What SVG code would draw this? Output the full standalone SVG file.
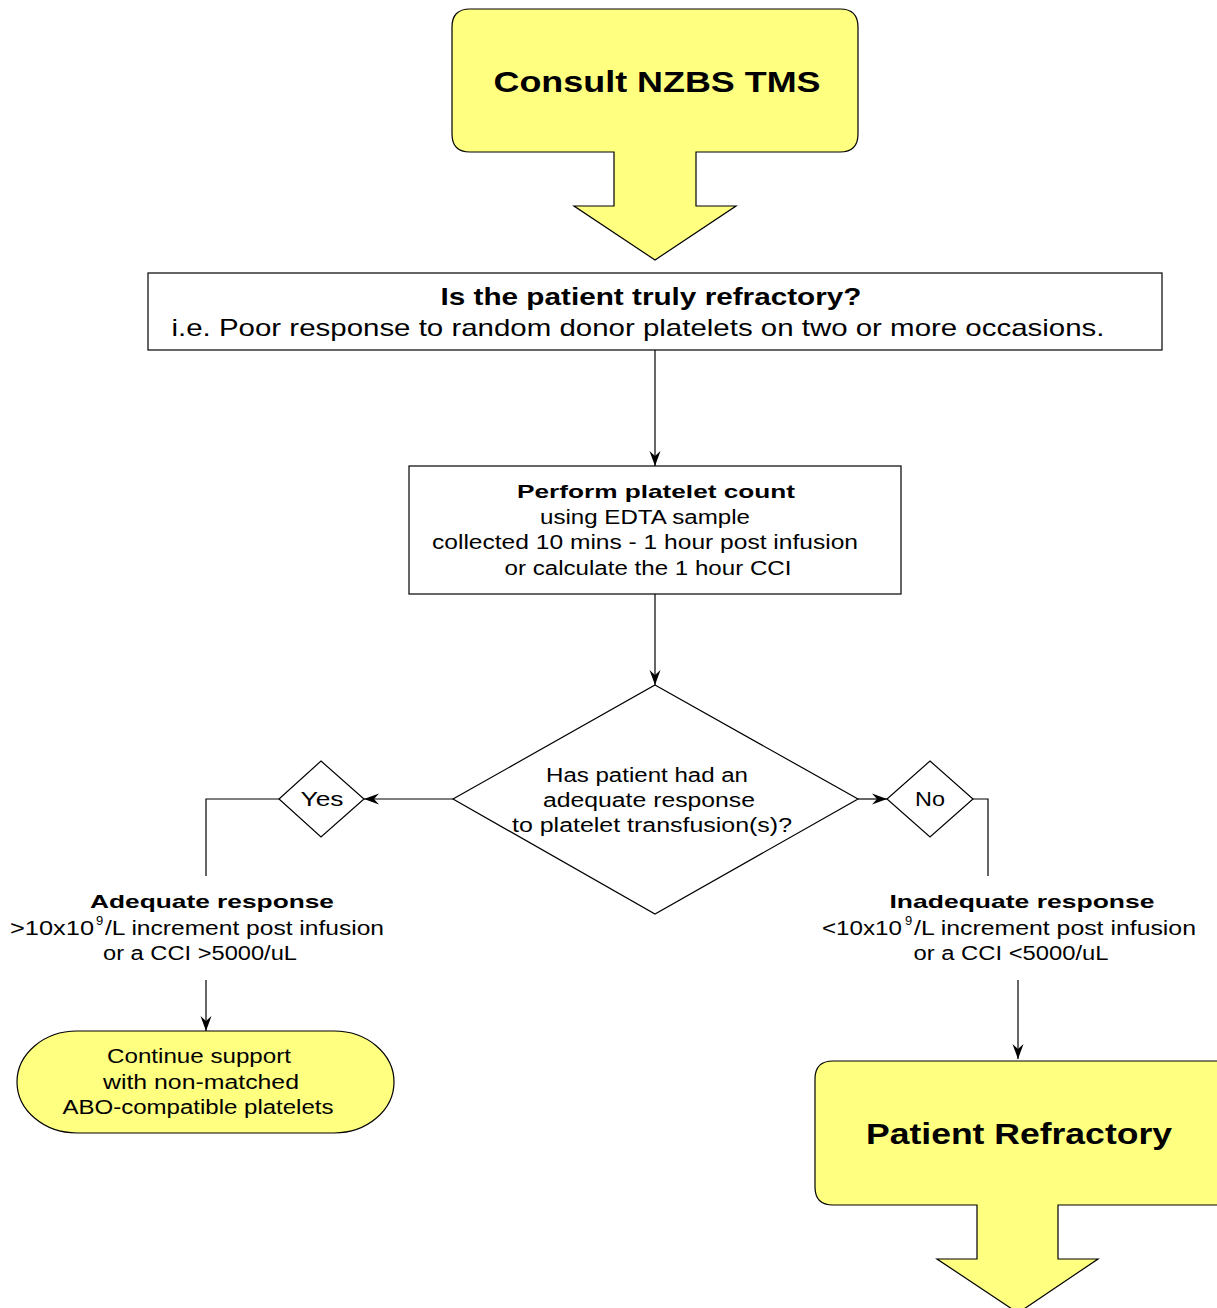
<svg xmlns="http://www.w3.org/2000/svg" width="1217" height="1308" viewBox="0 0 1217 1308">
<style>
.t{font-family:"Liberation Sans",Arial,sans-serif;fill:#000;text-anchor:middle}
.s{font-family:"Liberation Sans",Arial,sans-serif;fill:#000;text-anchor:start}
.b{font-weight:bold}
.y{fill:#ffff80;stroke:#000;stroke-width:1.2}
.w{fill:#fff;stroke:#000;stroke-width:1.2}
.c{fill:none;stroke:#000;stroke-width:1.2}
</style>
<defs>
<marker id="ah" markerUnits="userSpaceOnUse" markerWidth="16" markerHeight="12" refX="15" refY="6" orient="auto">
<path d="M0,0.5 L15,6 L0,11.5 L5,6 z" fill="#000"/>
</marker>
</defs>
<g id="consult">
<path class="y" d="M470,9 H840 Q858,9 858,27 V134 Q858,152 840,152 H696 V206 H736 L655,260 L574,206 H614 V152 H470 Q452,152 452,134 V27 Q452,9 470,9 Z"/>
<text class="t b" x="657" y="92" font-size="30" textLength="327" lengthAdjust="spacingAndGlyphs">Consult NZBS TMS</text>
</g>
<g id="refractory-q">
<rect class="w" x="148" y="273" width="1014" height="77"/>
<text class="t b" x="651" y="305" font-size="24" textLength="421" lengthAdjust="spacingAndGlyphs">Is the patient truly refractory?</text>
<text class="t" x="638" y="336" font-size="24" textLength="933" lengthAdjust="spacingAndGlyphs">i.e. Poor response to random donor platelets on two or more occasions.</text>
</g>
<g id="platelet-count">
<rect class="w" x="409" y="466" width="492" height="128"/>
<text class="t b" x="656" y="498" font-size="19" textLength="278" lengthAdjust="spacingAndGlyphs">Perform platelet count</text>
<text class="t" x="645" y="524" font-size="20" textLength="210" lengthAdjust="spacingAndGlyphs">using EDTA sample</text>
<text class="t" x="645" y="549" font-size="20" textLength="426" lengthAdjust="spacingAndGlyphs">collected 10 mins - 1 hour post infusion</text>
<text class="t" x="648" y="575" font-size="20" textLength="287" lengthAdjust="spacingAndGlyphs">or calculate the 1 hour CCI</text>
</g>
<g id="decision">
<polygon class="w" points="655,685 858,799 655,914 453,799"/>
<text class="t" x="647" y="782" font-size="20" textLength="202" lengthAdjust="spacingAndGlyphs">Has patient had an</text>
<text class="t" x="649" y="807" font-size="20" textLength="212" lengthAdjust="spacingAndGlyphs">adequate response</text>
<text class="t" x="652" y="832" font-size="20" textLength="280" lengthAdjust="spacingAndGlyphs">to platelet transfusion(s)?</text>
</g>
<g id="yes">
<polygon class="w" points="321,761 364,799 321,837 279,799"/>
<text class="t" x="322" y="806" font-size="20" textLength="43" lengthAdjust="spacingAndGlyphs">Yes</text>
</g>
<g id="no">
<polygon class="w" points="930,761 973,799 930,837 887,799"/>
<text class="t" x="930" y="806" font-size="20" textLength="30" lengthAdjust="spacingAndGlyphs">No</text>
</g>
<g id="adequate">
<text class="t b" x="212" y="908" font-size="19" textLength="244" lengthAdjust="spacingAndGlyphs">Adequate response</text>
<text class="s" x="10" y="935" font-size="20" textLength="84" lengthAdjust="spacingAndGlyphs">&gt;10x10</text>
<text class="s" x="96" y="925" font-size="13">9</text>
<text class="s" x="105" y="935" font-size="20" textLength="279" lengthAdjust="spacingAndGlyphs">/L increment post infusion</text>
<text class="t" x="200" y="960" font-size="20" textLength="194" lengthAdjust="spacingAndGlyphs">or a CCI &gt;5000/uL</text>
</g>
<g id="continue">
<rect class="y" x="17" y="1031" width="377" height="102" rx="60" ry="51"/>
<text class="t" x="199" y="1063" font-size="20" textLength="184" lengthAdjust="spacingAndGlyphs">Continue support</text>
<text class="t" x="201" y="1089" font-size="20" textLength="196" lengthAdjust="spacingAndGlyphs">with non-matched</text>
<text class="t" x="198" y="1114" font-size="20" textLength="271" lengthAdjust="spacingAndGlyphs">ABO-compatible platelets</text>
</g>
<g id="inadequate">
<text class="t b" x="1022" y="908" font-size="19" textLength="265" lengthAdjust="spacingAndGlyphs">Inadequate response</text>
<text class="s" x="822" y="935" font-size="20" textLength="80" lengthAdjust="spacingAndGlyphs">&lt;10x10</text>
<text class="s" x="905" y="925" font-size="13">9</text>
<text class="s" x="914" y="935" font-size="20" textLength="282" lengthAdjust="spacingAndGlyphs">/L increment post infusion</text>
<text class="t" x="1011" y="960" font-size="20" textLength="195" lengthAdjust="spacingAndGlyphs">or a CCI &lt;5000/uL</text>
</g>
<g id="patient-refractory">
<path class="y" d="M833,1061 H1218 V1205 H1058 V1259 H1098 L1018,1313 L937,1259 H977 V1205 H833 Q815,1205 815,1187 V1079 Q815,1061 833,1061 Z"/>
<text class="t b" x="1019" y="1144" font-size="30" textLength="306" lengthAdjust="spacingAndGlyphs">Patient Refractory</text>
</g>
<g id="connectors">
<line class="c" x1="655" y1="350" x2="655" y2="466" marker-end="url(#ah)"/>
<line class="c" x1="655" y1="594" x2="655" y2="685" marker-end="url(#ah)"/>
<line class="c" x1="453" y1="799" x2="364" y2="799" marker-end="url(#ah)"/>
<line class="c" x1="858" y1="799" x2="887" y2="799" marker-end="url(#ah)"/>
<polyline class="c" points="279,799 206,799 206,876"/>
<polyline class="c" points="973,799 988,799 988,876"/>
<line class="c" x1="206" y1="980" x2="206" y2="1031" marker-end="url(#ah)"/>
<line class="c" x1="1018" y1="980" x2="1018" y2="1059" marker-end="url(#ah)"/>
</g>
</svg>
